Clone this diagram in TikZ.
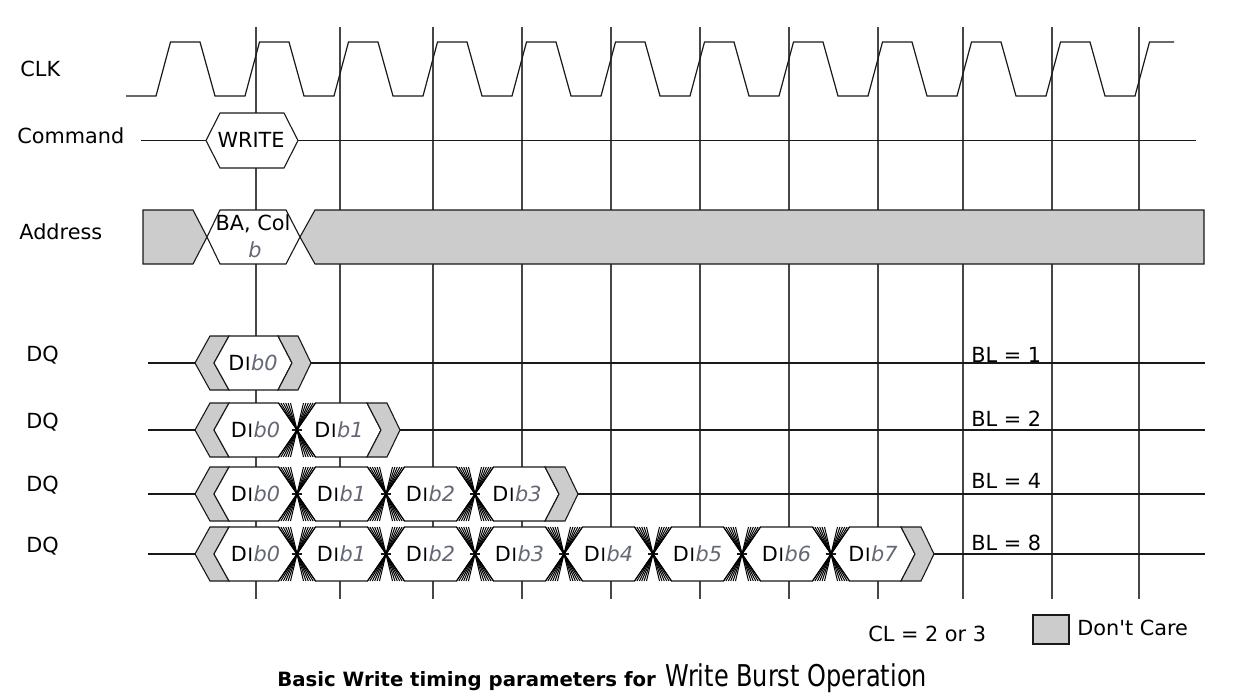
\documentclass[tikz,border=0pt]{standalone}
\usepackage{fontspec}
\setmainfont{DejaVu Sans}
\newfontfamily\noligfont{DejaVu Sans}
\usepackage{graphicx}
\definecolor{dcgray}{RGB}{204,204,204}
\definecolor{bcol}{RGB}{100,104,118}
\definecolor{gridc}{RGB}{70,70,70}
\newcommand\dilabel[1]{D\kern0.3pt{\fontsize{9.2}{10}\selectfont I}\kern0.3pt\textcolor{bcol}{\itshape b#1}}
\begin{document}
\begin{tikzpicture}[x=0.5pt,y=-0.5pt,
  sig/.style={line width=0.6pt,draw=black!90},
  gridline/.style={line width=0.6pt,draw=gridc},
  dcshape/.style={fill=dcgray,draw=black!90,line width=0.55pt},
  valid/.style={fill=white,draw=black!90,line width=0.55pt},
  fanline/.style={line width=0.5pt,draw=black},
  lbl/.style={font=\fontsize{10.4}{12}\selectfont,inner sep=0pt}]
\useasboundingbox (0,0) rectangle (1236,696);
\fill[white] (0,0) rectangle (1236,696);

% grid lines
\foreach \gx in {256,340,433,522,611,700,789,878,963,1052,1139}
  \draw[gridline] (\gx,27) -- (\gx,599);

% CLK
\draw[sig] (126,96) -- (156,96)
  \foreach \k in {0,...,10} { -- ({156+89*\k+14.5},42) -- ({156+89*\k+44},42) -- ({156+89*\k+59},96) -- ({156+89*\k+89},96) }
  -- (1149.5,42) -- (1174,42);

% Command
\draw[sig] (141,140.5) -- (1196,140.5);
\draw[valid] (206,140.5) -- (220,113) -- (284,113) -- (298,140.5) -- (284,168) -- (220,168) -- cycle;
\node[lbl] (write) at (251,139.5) {WRITE};

% Address
\draw[dcshape] (143,210) -- (193,210) -- (207,237) -- (193,264) -- (143,264) -- cycle;
\draw[valid] (207,237) -- (220,210) -- (286,210) -- (300,237) -- (286,264) -- (220,264) -- cycle;
\draw[dcshape] (300,237) -- (315,210) -- (1204,210) -- (1204,264) -- (315,264) -- cycle;
\node[lbl] (bacol) at (253,223.5) {BA, Col};
\node[lbl,text=bcol] (bb) at (255,250) {\itshape b};

% DQ rows
\foreach \ry/\nn in {363/1,430/2,494/4,554/8} {
  \pgfmathsetmacro\Rend{208+89*\nn-5}
  \draw[sig] (148,\ry) -- (195,\ry);
  \draw[sig] (\Rend+19,\ry) -- (1205,\ry);
  \draw[dcshape] (195,\ry) -- (210,\ry-27) -- (229,\ry-27) -- (214,\ry) -- (229,\ry+27) -- (210,\ry+27) -- cycle;
  \foreach \k in {1,...,\nn} {
    \pgfmathsetmacro\Lp{\k==1 ? 214 : 208+89*(\k-1)}
    \pgfmathsetmacro\Lt{\k==1 ? 229 : 208+89*(\k-1)+18.5}
    \pgfmathsetmacro\Rp{\k==\nn ? \Rend : 208+89*\k}
    \pgfmathsetmacro\Rt{\k==\nn ? \Rend-14 : 208+89*\k-18.5}
    \draw[valid] (\Lp,\ry) -- (\Lt,\ry-27) -- (\Rt,\ry-27) -- (\Rp,\ry) -- (\Rt,\ry+27) -- (\Lt,\ry+27) -- cycle;
    \node[lbl] (d\nn x\k) at ({(\Lp+\Rp)/2},\ry) {\dilabel{\the\numexpr\k-1\relax}};
  }
  \ifnum\nn>1
    \pgfmathtruncatemacro\nm{\nn-1}
    \foreach \k in {1,...,\nm} {
      \pgfmathsetmacro\cc{208+89*\k}
      \draw[sig] (\cc-5,\ry) -- (\cc+5,\ry);
      \foreach \w in {6.5,8.9,11.3,13.7,16.1,18.5}
        \draw[fanline] (\cc-\w,\ry-27) -- (\cc+\w,\ry+27) (\cc+\w,\ry-27) -- (\cc-\w,\ry+27);
    }
  \fi
  \draw[dcshape] (\Rend-14,\ry-27) -- (\Rend+6,\ry-27) -- (\Rend+19,\ry) -- (\Rend+6,\ry+27) -- (\Rend-14,\ry+27) -- (\Rend,\ry) -- cycle;
}

% signal labels
\node[lbl,anchor=base west] (lclk) at (20,76) {CLK};
\node[lbl,anchor=base west] (lcmd) at (17,143) {Command};
\node[lbl,anchor=base west] (ladr) at (19,239) {Address};
\node[lbl,anchor=base west] (ldq1) at (26,361) {DQ};
\node[lbl,anchor=base west] (ldq2) at (26,428) {DQ};
\node[lbl,anchor=base west] (ldq3) at (26,491) {DQ};
\node[lbl,anchor=base west] (ldq4) at (26,552) {DQ};

% burst length labels
\node[lbl,anchor=base west] (bl1) at (971,362) {BL = 1};
\node[lbl,anchor=base west] (bl2) at (971,426) {BL = 2};
\node[lbl,anchor=base west] (bl4) at (971,488) {BL = 4};
\node[lbl,anchor=base west] (bl8) at (971,550) {BL = 8};

% legend
\node[lbl,anchor=base west] (cl) at (868,641) {CL = 2 or 3};
\draw[dcshape] (1033,615) rectangle (1069,644);
\node[lbl,anchor=base west,font=\noligfont\fontsize{10.4}{12}\selectfont] (dcare) at (1077,635) {Don't Care};

% title
\node[inner sep=0pt,anchor=base west,font=\bfseries\fontsize{9.85}{12}\selectfont] (t1) at (277,686) {Basic Write timing parameters for};
\node[inner sep=0pt,anchor=base west] (t2) at (665,686) {\scalebox{0.8}[1]{\fontsize{15}{18}\selectfont Write Burst Operation}};
\end{tikzpicture}
\end{document}
